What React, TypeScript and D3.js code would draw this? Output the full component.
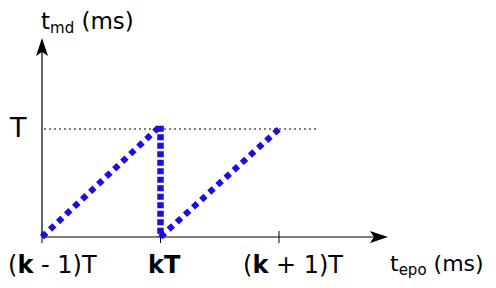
import React from "react";
import * as d3 from "d3";

const tickValues = [0, 1, 2];
const tickLabels = [
  [{ t: "(" }, { t: "k", b: true }, { t: " - 1)T" }],
  [{ t: "kT", b: true }],
  [{ t: "(" }, { t: "k", b: true }, { t: " + 1)T" }],
];
const rise1X = [0, 1];
const rise1Y = [0, 1.03];
const dropX = [1, 1];
const dropY = [1.03, 0];
const rise2X = [1, 2];
const rise2Y = [0, 1];
const levelLabel = "T";

const W = 496;
const H = 288;
const labelDx = [-34, -12.5, -36];

export default function App() {
  const x = d3.scaleLinear().domain([0, 2]).range([42, 279]);
  const y = d3.scaleLinear().domain([0, 1]).range([237, 129]);
  const line = d3
    .line<[number, number]>()
    .x((d) => x(d[0]))
    .y((d) => y(d[1]));
  const seg = (xs: number[], ys: number[]) =>
    line(xs.map((v, i) => [v, ys[i]] as [number, number])) || "";

  const x0 = x(0);
  const y0 = y(0);
  const font = "DejaVu Sans, sans-serif";

  return (
    <svg
      width={W}
      height={H}
      style={{ position: "absolute", left: 0, top: 0 }}
      fontFamily={font}
    >
      <rect width={W} height={H} fill="#fff" />
      {/* axes */}
      <line x1={x0} y1={y0} x2={380} y2={y0} stroke="#000" strokeWidth={1.2} />
      <line x1={x0} y1={y0} x2={x0} y2={46} stroke="#000" strokeWidth={1.2} />
      <path
        d={`M388,${y0} L370,${y0 - 6} L374,${y0} L370,${y0 + 6} Z`}
        fill="#000"
      />
      <path
        d={`M${x0},38 L${x0 - 6},56 L${x0},52 L${x0 + 6},56 Z`}
        fill="#000"
      />
      {/* ticks */}
      {tickValues.map((v) => (
        <line
          key={v}
          x1={x(v)}
          x2={x(v)}
          y1={y0 - 6}
          y2={y0 + 6}
          stroke="#000"
          strokeWidth={1}
        />
      ))}
      {/* T level dotted */}
      <line
        x1={x0 + 2}
        x2={316}
        y1={y(1)}
        y2={y(1)}
        stroke="#000"
        strokeWidth={1}
        strokeDasharray="2,3"
      />
      {/* sawtooth */}
      <path
        d={seg(rise1X, rise1Y)}
        fill="none"
        stroke="#1a0ee0"
        strokeWidth={6}
        strokeDasharray="6,5"
      />
      <path
        d={seg(dropX, dropY)}
        fill="none"
        stroke="#1a0ee0"
        strokeWidth={6.5}
        strokeDasharray="6,2.5"
      />
      <path
        d={seg(rise2X, rise2Y)}
        fill="none"
        stroke="#1a0ee0"
        strokeWidth={6}
        strokeDasharray="6,5"
      />
      {/* labels */}
      {tickValues.map((v, i) => (
        <text
          key={v}
          x={x(v) + labelDx[i]}
          y={273}
          fontSize={24}
          textAnchor="start"
          fill="#000"
        >
          {tickLabels[i].map((p, j) => (
            <tspan key={j} fontWeight={p.b ? "bold" : "normal"}>
              {p.t}
            </tspan>
          ))}
        </text>
      ))}
      <text x={10} y={137} fontSize={27} fill="#000">
        {levelLabel}
      </text>
      <text x={41} y={29} fontSize={23} fill="#000">
        t
        <tspan fontSize={15} dy={4}>md</tspan>
        <tspan dy={-4}> (ms)</tspan>
      </text>
      <text x={390} y={271} fontSize={22} fill="#000">
        t
        <tspan fontSize={15} dy={4}>epo</tspan>
        <tspan dy={-4}> (ms)</tspan>
      </text>
    </svg>
  );
}
